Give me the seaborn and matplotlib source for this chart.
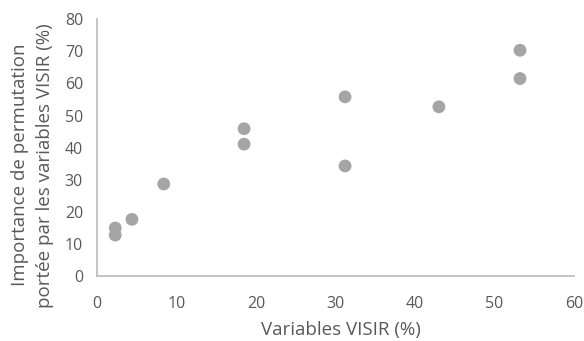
import pandas as pd
import seaborn as sns
import matplotlib.pyplot as plt

visir = [2.3, 2.3, 4.4, 8.4, 18.5, 18.5, 31.2, 31.2, 43.0, 53.2, 53.2]
importance = [15.0, 12.8, 17.7, 28.7, 45.9, 41.1, 55.8, 34.3, 52.7, 70.3, 61.5]

df = pd.DataFrame({"visir": visir, "importance": importance})

sns.set_style("white")
plt.rcParams["font.family"] = ["Open Sans", "DejaVu Sans"]

fig = plt.figure(figsize=(5.84, 3.41), dpi=100)
ax = fig.add_axes([0.166, 0.19, 0.817, 0.754])

sns.scatterplot(data=df, x="visir", y="importance", ax=ax,
                color="#a5a5a5", s=85, edgecolor="none", legend=False)

ax.set_xlim(0, 60)
ax.set_ylim(0, 80)
ax.set_xticks(range(0, 61, 10))
ax.set_yticks(range(0, 81, 10))
ax.tick_params(axis="both", length=0, labelsize=11.5, labelcolor="#595959")
ax.tick_params(axis="x", pad=14)
ax.tick_params(axis="y", pad=10)

for side in ["top", "right"]:
    ax.spines[side].set_visible(False)
for side in ["left", "bottom"]:
    ax.spines[side].set_color("#bfbfbf")
    ax.spines[side].set_linewidth(1.3)

ax.set_xlabel("Variables VISIR (%)", fontsize=13.5, color="#595959", va="center")
ax.xaxis.set_label_coords(0.512, -0.21)
ax.set_ylabel("Importance de permutation\nportée par les variables VISIR (%)",
              fontsize=13.5, color="#595959", linespacing=1.45, va="center")
ax.yaxis.set_label_coords(-0.135, 0.432)

fig.savefig("out.png", dpi=100)
